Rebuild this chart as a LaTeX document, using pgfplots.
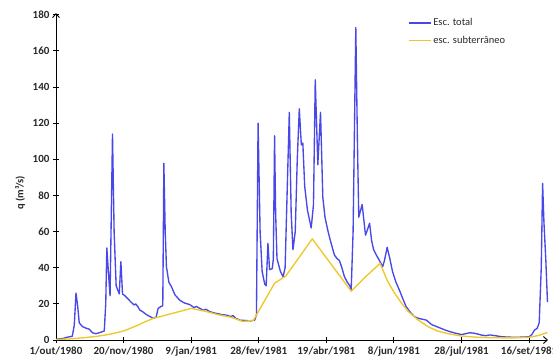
\documentclass[border=0pt]{standalone}
\usepackage{pgfplots}
\pgfplotsset{compat=1.18}
\usepackage{fontspec}
\setmainfont{Carlito}
\usetikzlibrary{arrows.meta}
\definecolor{qblue}{RGB}{72,72,232}
\definecolor{qyellow}{RGB}{238,200,40}
\definecolor{txt}{RGB}{40,40,40}
\begin{document}
\begin{tikzpicture}
\begin{axis}[
  at={(0,0)}, anchor=south west,
  scale only axis, width=492pt, height=327pt,
  xmin=0, xmax=364, ymin=0, ymax=181,
  axis lines=left,
  axis line style={line width=0.9pt, black, -{Straight Barb[length=4pt,width=7pt,line width=0.9pt]}},
  tick align=center, major tick length=6pt,
  tick style={line width=0.9pt, black},
  xtick={0,50,100,150,200,250,300,350},
  xticklabels={1/out/1980,20/nov/1980,9/jan/1981,28/fev/1981,19/abr/1981,8/jun/1981,28/jul/1981,16/set/1981},
  ytick={0,20,...,180},
  /pgf/number format/assume math mode=true,
  tick label style={font=\fontsize{11}{13}\selectfont\bfseries, text=txt},
  ylabel={q (m³/s)},
  ylabel style={font=\fontsize{10.5}{12}\selectfont\bfseries, text=txt, at={(axis description cs:-0.073,0.45)}, anchor=center},
  legend style={draw=none, fill=none, at={(0.715,0.99)}, anchor=north west, font=\fontsize{10.5}{12}\selectfont, text=txt, row sep=5pt, inner sep=0pt},
  legend cell align=left,
  legend image code/.code={\draw[#1] (0pt,0pt) -- (22pt,0pt);},
]
\addplot[qblue, line width=1.35pt, line join=round] coordinates {
(0,0.5) (5,0.8) (8,1.5) (10,1.8) (12,2) (13.5,8) (14.8,26) (16,19) (17.2,9.5) (19.5,7.5) (22,6.6) (24.6,6) (27,4) (29.5,3.5) (32,4) (35.7,5)
(36.8,20) (37.6,51) (39,35) (40,24.5) (41.8,114) (43,60) (44.5,30) (46.8,25.5) (48,43.4) (49.2,25.5) (51,24.5) (53,23) (55.5,21) (57.8,19.4) (59,20)
(60.5,18.5) (62,16.6) (64,15.7) (67,14) (70,12.8) (72,12) (74,12.5) (75.6,17.5) (77.5,18.5) (79,19) (79.8,97.8) (80.8,60) (81.7,40.6) (83.5,32) (85.4,29.5)
(88,25) (91.6,22) (95,20.5) (99,19.6) (102,18) (104,18.5) (106.4,17.5) (109,16.5) (111,17) (113.7,15.7) (117,15) (120,14.5) (123,14) (126,13.8)
(129,13) (131,13.5) (133,12) (136,11) (140,10.8) (144,10.6) (147,11) (148.3,14) (149.5,120) (151,60) (152.5,38) (154.4,31) (155.5,30) (156.8,53.5)
(158,39) (160,39.5) (160.8,45) (161.7,113) (162.5,70) (163.5,45) (166,38) (168,35) (169.5,40) (172.6,126) (174,70) (175.3,50) (177,60) (178.5,100)
(180,128) (181.5,108) (182.6,109) (184,85) (186,72) (188.8,62) (190.5,75) (191.8,144) (193.7,97) (195.7,126) (197.4,79) (199,68) (201,61) (203,55)
(206,47) (208,45) (209.7,44) (211.5,40) (213.4,35) (215.5,32) (217,30.5) (218.4,28) (219.8,60) (221.8,173) (223,110) (224,68) (226.5,75) (229,58)
(232,64.6) (233.5,55) (235,50) (237,47) (239.3,44) (241.7,40.6) (243,44) (245,51.3) (247,45) (249,37.8) (251.5,32) (254,27.7) (256.5,23) (259,18.5)
(262,15.5) (265,13) (268,12) (271,11.5) (274,11) (278,8.5) (283,7) (288,5.5) (292,4.5) (296,3.7) (300,3) (303,3.5) (306,4) (309,3.8) (312,3.3)
(315,2.7) (318,2.4) (321,2.8) (324,2.5) (330,1.8) (335,1.6) (340,1.5) (345,1.6) (350,1.8) (352,3) (354,5.5) (356,6.5) (357.5,9.6) (359,40)
(360,86.7) (361,65) (362.4,44) (363.6,21)
};
\addlegendentry{Esc. total}
\addplot[qyellow, line width=1.35pt, line join=round] coordinates {
(0,0.3) (10,0.6) (20,1.2) (30,2) (40,3.2) (50,5) (60,8) (65,9.8) (72,12) (80,13.5) (90,15.5) (100,17.5) (110,16) (120,14) (130,12.5)
(138,10.3) (146,10.8) (148,13.5) (161.7,31.4) (170,35.4) (189.6,56) (200,45.5) (210,35.5) (218.4,27) (229,35) (239.8,42.4) (245,33) (250,26.5)
(256,20) (261,15.5) (268,11) (275,7.5) (282,5) (290,3.5) (300,2.2) (310,1.6) (320,1.3) (330,1.2) (340,1.2) (350,1.5) (357,2.5) (363.6,4.2)
};
\addlegendentry{esc. subterrâneo}
\end{axis}
\pgfresetboundingbox
\useasboundingbox (-56pt,-20pt) rectangle (497pt,340pt);
\end{tikzpicture}
\end{document}
